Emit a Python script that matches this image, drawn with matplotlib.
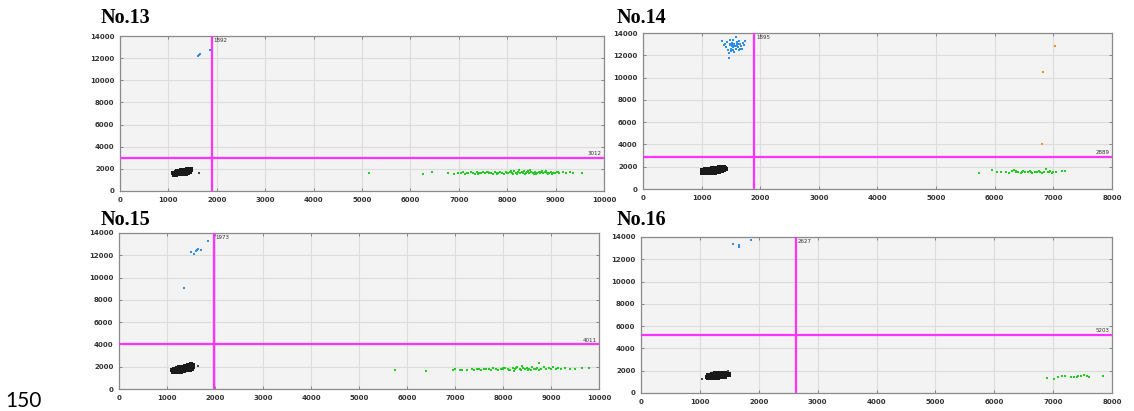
import matplotlib
matplotlib.use("Agg")

import matplotlib.pyplot as plt
import numpy as np


# ---- panel No.13 ----
p13_black = [
    (1110, 1550), (1120, 1620), (1140, 1580), (1150, 1680), (1160, 1540),
    (1170, 1620), (1180, 1700), (1190, 1580), (1200, 1650), (1210, 1720),
    (1220, 1560), (1230, 1640), (1240, 1700), (1250, 1600), (1260, 1760),
    (1270, 1660), (1280, 1580), (1290, 1720), (1300, 1640), (1310, 1800),
    (1320, 1680), (1330, 1600), (1340, 1760), (1350, 1700), (1360, 1840),
    (1370, 1650), (1380, 1780), (1390, 1720), (1400, 1880), (1410, 1760),
    (1420, 1680), (1430, 1820), (1440, 1940), (1450, 1780), (1460, 1860),
    (1250, 1680), (1280, 1740), (1330, 1720), (1200, 1600),
    (1120, 1480), (1160, 1460), (1200, 1500), (1240, 1520), (1280, 1520),
    (1320, 1560), (1360, 1580), (1400, 1620), (1440, 1680), (1180, 1780),
    (1220, 1820), (1260, 1860), (1300, 1900), (1340, 1940), (1380, 1980),
    (1420, 2020), (1460, 2000), (1150, 1740), (1100, 1650),
]
p13_stray = [(1640, 1600)]
p13_blue = [(1610, 12150), (1640, 12300), (1660, 12400), (1850, 12700)]
p13_green = [
    (5150, 1600), (6270, 1580), (6450, 1680), (6780, 1640), (6900, 1560),
    (6980, 1600), (7050, 1620), (7080, 1700), (7120, 1580), (7160, 1640),
    (7200, 1600), (7260, 1680), (7300, 1620), (7340, 1580), (7380, 1700),
    (7420, 1640), (7460, 1600), (7500, 1680), (7540, 1620), (7580, 1720),
    (7620, 1600), (7660, 1660), (7700, 1580), (7740, 1700), (7780, 1640),
    (7820, 1600), (7860, 1720), (7900, 1660), (7940, 1580), (7980, 1760),
    (8020, 1640), (8060, 1700), (8100, 1600), (8140, 1800), (8180, 1660),
    (8220, 1740), (8260, 1600), (8300, 1700), (8340, 1780), (8380, 1640),
    (8420, 1720), (8460, 1600), (8500, 1760), (8540, 1660), (8580, 1700),
    (8620, 1620), (8660, 1740), (8700, 1680), (8740, 1600), (8780, 1720),
    (8820, 1660), (8860, 1620), (8900, 1700), (8940, 1640), (8980, 1600),
    (9020, 1680), (9080, 1640), (9150, 1700), (9220, 1620), (9300, 1680),
    (9350, 1640), (9550, 1620), (7400, 1560), (7600, 1760), (7800, 1560),
    (8000, 1600), (8080, 1820), (8200, 1580), (8320, 1620), (8440, 1820),
    (8560, 1580), (8680, 1600), (8800, 1780), (8920, 1580), (9040, 1760),
    (8120, 1520), (8240, 1860), (8360, 1540), (8480, 1880), (8600, 1540),
    (8720, 1820), (8840, 1540),
]
p13_vline = 1892
p13_hline = 3012

# ---- panel No.14 ----
p14_black = [
    (1000, 1560), (1020, 1620), (1040, 1500), (1050, 1680), (1070, 1580),
    (1090, 1640), (1100, 1500), (1110, 1720), (1130, 1600), (1150, 1660),
    (1160, 1540), (1180, 1740), (1190, 1620), (1210, 1680), (1220, 1560),
    (1240, 1780), (1250, 1640), (1270, 1720), (1280, 1600), (1300, 1840),
    (1310, 1700), (1330, 1760), (1340, 1900), (1360, 1800), (1380, 1960),
    (1390, 1700), (1400, 1860), (1060, 1620), (1120, 1560), (1200, 1700),
    (1260, 1680),
    (1010, 1460), (1060, 1440), (1110, 1440), (1170, 1460), (1230, 1480),
    (1290, 1500), (1350, 1580), (1000, 1700), (1060, 1760), (1120, 1800),
    (1180, 1860), (1240, 1900), (1300, 1960), (1360, 2000), (1410, 1760),
]
p14_stray = []
p14_blue = [
    (1350, 13300), (1380, 12900), (1400, 13000), (1420, 12700), (1440, 13200),
    (1450, 12500), (1460, 12200), (1470, 11800), (1480, 12900), (1490, 13400),
    (1500, 12600), (1510, 12800), (1520, 13100), (1530, 12700), (1540, 12500),
    (1550, 12900), (1560, 13000), (1570, 12800), (1580, 13600), (1590, 12600),
    (1600, 13200), (1610, 12900), (1620, 12700), (1630, 13300), (1640, 12500),
    (1650, 13000), (1670, 12800), (1690, 12600), (1700, 13100), (1720, 12900),
    (1740, 13300), (1540, 13400), (1500, 12400), (1560, 12300), (1600, 13000),
    (1520, 12950), (1580, 12850), (1620, 13050), (1660, 12550), (1480, 13050),
]
p14_orange = [(7030, 12800), (6830, 10500), (6800, 4000)]
p14_green = [
    (5730, 1450), (5950, 1750), (6030, 1550), (6100, 1500), (6200, 1550),
    (6250, 1450), (6300, 1600), (6330, 1750), (6360, 1500), (6400, 1550),
    (6440, 1450), (6480, 1600), (6520, 1500), (6560, 1550), (6600, 1650),
    (6640, 1450), (6680, 1550), (6720, 1500), (6760, 1600), (6800, 1450),
    (6840, 1550), (6870, 1800), (6900, 1500), (6940, 1600), (6980, 1450),
    (7000, 1550), (7050, 1500), (7150, 1600), (7200, 1650), (6360, 1650),
    (6460, 1520), (6620, 1520), (6780, 1520), (6920, 1560),
]
p14_vline = 1895
p14_hline = 2889

# ---- panel No.15 ----
p15_black = [
    (1120, 1600), (1140, 1700), (1160, 1560), (1180, 1660), (1200, 1760),
    (1210, 1620), (1230, 1700), (1250, 1820), (1260, 1660), (1280, 1740),
    (1300, 1860), (1310, 1700), (1330, 1780), (1350, 1920), (1360, 1740),
    (1380, 1840), (1400, 1980), (1410, 1800), (1430, 1900), (1450, 2060),
    (1460, 1860), (1480, 1960), (1500, 2120), (1520, 1900), (1540, 2000),
    (1550, 2180), (1240, 1600), (1290, 1660), (1340, 1720),
    (1130, 1500), (1180, 1500), (1230, 1520), (1290, 1560), (1350, 1620),
    (1410, 1680), (1470, 1740), (1530, 1800), (1150, 1820), (1200, 1880),
    (1260, 1940), (1320, 2000), (1380, 2080), (1440, 2160), (1500, 2220),
    (1110, 1700),
]
p15_stray = [(1650, 2050)]
p15_blue = [
    (1350, 9100), (1500, 12250), (1570, 12100), (1600, 12400), (1630, 12500),
    (1650, 12600), (1700, 12500), (1850, 13300),
]
p15_green = [
    (5750, 1750), (6400, 1620), (6950, 1680), (7000, 1760), (7100, 1700),
    (7150, 1740), (7250, 1720), (7350, 1780), (7400, 1700), (7450, 1760),
    (7500, 1800), (7550, 1720), (7600, 1840), (7650, 1760), (7700, 1800),
    (7750, 1720), (7800, 1860), (7850, 1780), (7900, 1700), (7950, 1840),
    (8000, 1760), (8050, 1900), (8100, 1800), (8150, 1720), (8200, 1880),
    (8250, 1780), (8300, 1940), (8350, 1820), (8400, 2100), (8450, 1760),
    (8500, 1900), (8550, 1820), (8600, 1980), (8650, 1760), (8700, 1900),
    (8750, 2300), (8800, 1840), (8850, 1960), (8900, 1780), (8950, 1900),
    (9000, 1840), (9050, 1940), (9100, 1800), (9150, 1880), (9200, 1840),
    (9300, 1860), (9400, 1820), (9500, 1780), (9650, 1860), (9800, 1900),
    (8000, 1860), (8120, 1700), (8280, 1860), (8420, 1880), (8580, 1740),
    (8680, 1840), (8220, 1660), (8380, 1700), (8520, 1680), (8760, 1740),
]
p15_vline = 1973
p15_hline = 4011

# ---- panel No.16 ----
p16_black = [
    (1120, 1420), (1130, 1540), (1150, 1480), (1170, 1600),
    (1190, 1400), (1200, 1520), (1220, 1620), (1240, 1460), (1250, 1560),
    (1270, 1660), (1290, 1420), (1300, 1540), (1320, 1640), (1340, 1480),
    (1350, 1580), (1370, 1700), (1390, 1520), (1400, 1620), (1420, 1760),
    (1440, 1580), (1460, 1680), (1500, 1700), (1260, 1500),
    (1310, 1600), (1180, 1500),
    (1130, 1360), (1180, 1340), (1240, 1360), (1300, 1380), (1360, 1420),
    (1420, 1480), (1140, 1640), (1200, 1700), (1260, 1760), (1320, 1780),
    (1380, 1800), (1440, 1820), (1500, 1620),
]
p16_stray = [(1030, 1300), (1480, 2000)]
p16_blue = [(1570, 13350), (1660, 13300), (1660, 13100), (1870, 13700)]
p16_green = [
    (6900, 1350), (7020, 1300), (7080, 1450), (7150, 1550), (7200, 1500),
    (7300, 1400), (7350, 1450), (7400, 1400), (7430, 1500), (7470, 1550),
    (7520, 1600), (7580, 1550), (7610, 1450), (7850, 1500),
]
p16_vline = 2627
p16_hline = 5203

panels = [
    ("No.13", 10000, p13_black, p13_stray, p13_blue, p13_green, [],
     p13_vline, p13_hline, [0.1058, 0.5353, 0.4268, 0.3771], (101, 23)),
    ("No.14", 8000, p14_black, p14_stray, p14_blue, p14_green, p14_orange,
     p14_vline, p14_hline, [0.5670, 0.5401, 0.4136, 0.3796], (617, 23)),
    ("No.15", 10000, p15_black, p15_stray, p15_blue, p15_green, [],
     p15_vline, p15_hline, [0.1049, 0.0535, 0.4233, 0.3796], (101, 225)),
    ("No.16", 8000, p16_black, p16_stray, p16_blue, p16_green, [],
     p16_vline, p16_hline, [0.5653, 0.0438, 0.4153, 0.3796], (617, 225)),
]

W, H = 1134, 411
fig = plt.figure(figsize=(W / 100, H / 100), dpi=100)

magenta = "#ff33ff"

for title, xmax, black, stray, blue, green, orange, vx, hy, rect, tpos in panels:
    ax = fig.add_axes(rect)
    ax.set_facecolor("#f3f3f3")
    ax.set_xlim(0, xmax)
    ax.set_ylim(0, 14000)
    ax.set_xticks(np.arange(0, xmax + 1, 1000))
    ax.set_yticks(np.arange(0, 14001, 2000))
    ax.grid(color="#dcdcdc", linewidth=0.8)
    ax.set_axisbelow(True)

    for side in ax.spines:
        ax.spines[side].set_color("#8a8a8a")
        ax.spines[side].set_linewidth(0.9)

    ax.tick_params(
        direction="in",
        length=2,
        width=0.6,
        color="#777777",
        top=True,
        right=True,
        labelsize=5,
        labelcolor="#333333",
        pad=4
    )
    for lab in ax.get_xticklabels() + ax.get_yticklabels():
        lab.set_fontweight("bold")

    for pts, col, size in [
        (black, "#1a1a1a", 5),
        (stray, "#444444", 2),
        (green, "#22cc22", 4),
        (blue, "#2f8fe8", 4),
        (orange, "#ff8c1a", 4),
    ]:
        if not pts:
            continue
        arr = np.array(pts)
        ax.scatter(arr[:, 0], arr[:, 1], s=size, c=col, marker="s",
                   linewidths=0, zorder=3)

    ax.axvline(vx, color=magenta, linewidth=1.6, zorder=4)
    ax.axhline(hy, color=magenta, linewidth=1.6, zorder=4)

    ax.text(vx + xmax * 0.004, 13850, str(vx), fontsize=4, color="#333333",
            ha="left", va="top", zorder=5)
    ax.text(xmax * 0.995, hy + 150, str(hy), fontsize=4, color="#333333",
            ha="right", va="bottom", zorder=5)

    fig.text(tpos[0] / W, 1 - tpos[1] / H, title,
             family="Liberation Serif", fontweight="bold", fontsize=14.5,
             ha="left", va="baseline")

fig.text(5 / W, 1 - 407 / H, "150", family="Lato", fontsize=15,
         ha="left", va="baseline")

fig.savefig("out.png", dpi=100)
